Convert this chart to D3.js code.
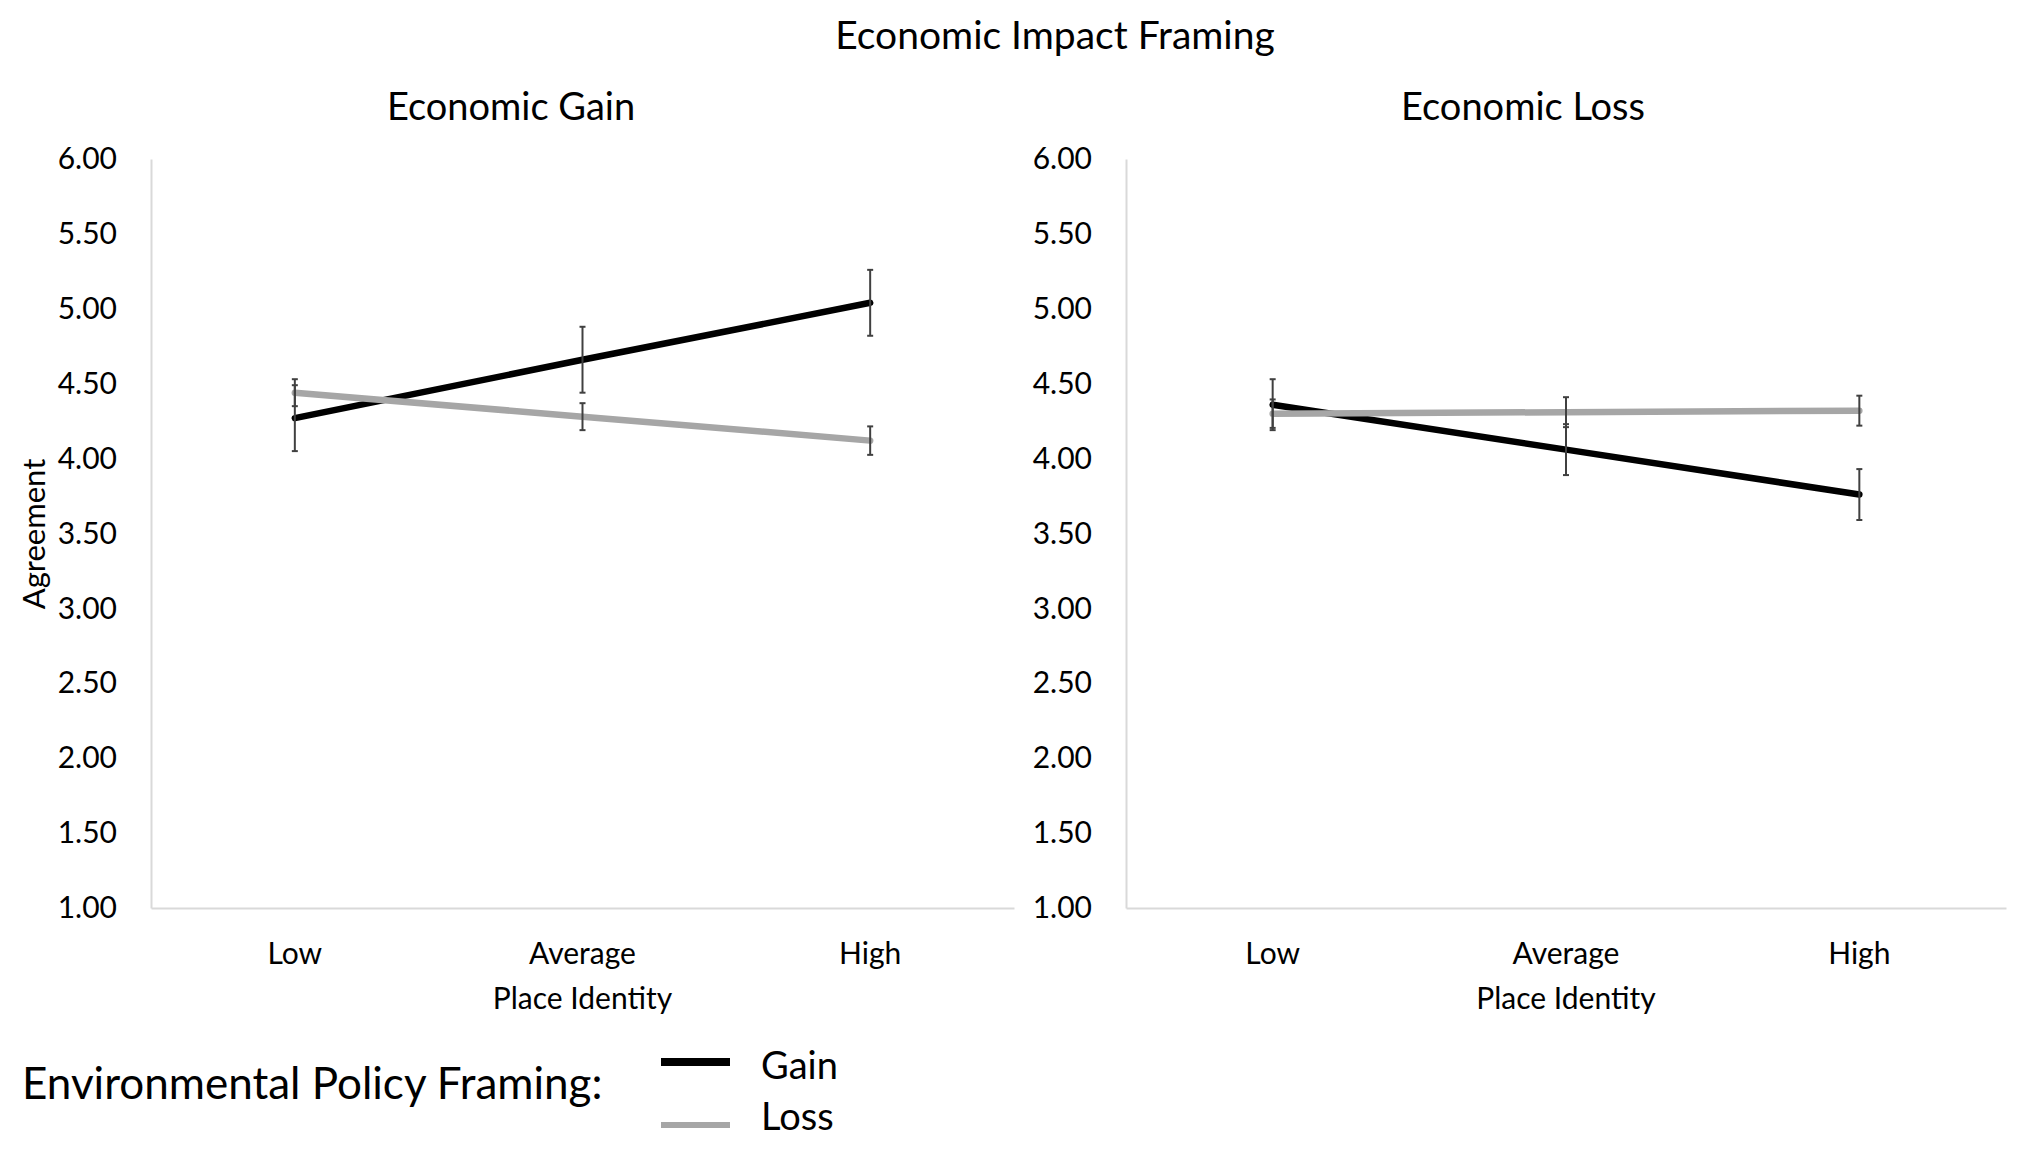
<!DOCTYPE html>
<html lang="en-US">
<head>
<meta charset="utf-8">
<title>Economic Impact Framing</title>
<script src="https://d3js.org/d3.v7.min.js"></script>
<style>
  body { margin: 0; background: #fff; }
  text { font-family: Lato, "Open Sans", sans-serif; fill: #000; }
</style>
</head>
<body>
<svg id="chart" width="2032" height="1156"></svg>
<script>
// data
var categories = ["Low", "Average", "High"];
var seriesNames = ["Gain", "Loss"];
var panelTitles = ["Economic Gain", "Economic Loss"];
var yTicks = [1.0, 1.5, 2.0, 2.5, 3.0, 3.5, 4.0, 4.5, 5.0, 5.5, 6.0];

// Economic Gain panel
var gainPanelGain = [4.27, 4.66, 5.04];
var gainPanelGainErr = [0.22, 0.22, 0.22];
var gainPanelLoss = [4.44, 4.28, 4.12];
var gainPanelLossErr = [0.09, 0.09, 0.095];

// Economic Loss panel
var lossPanelGain = [4.36, 4.06, 3.76];
var lossPanelGainErr = [0.17, 0.17, 0.17];
var lossPanelLoss = [4.30, 4.31, 4.32];
var lossPanelLossErr = [0.095, 0.10, 0.10];

var panels = [
  { title: panelTitles[0], x0: 151, x1: 1014, titleX: 511,
    series: [{ name: seriesNames[0], values: gainPanelGain, err: gainPanelGainErr },
             { name: seriesNames[1], values: gainPanelLoss, err: gainPanelLossErr }] },
  { title: panelTitles[1], x0: 1126, x1: 2006, titleX: 1523,
    series: [{ name: seriesNames[0], values: lossPanelGain, err: lossPanelGainErr },
             { name: seriesNames[1], values: lossPanelLoss, err: lossPanelLossErr }] }
];

var colors = { Gain: "#000000", Loss: "#a6a6a6" };
var svg = d3.select("#chart");
var yScale = d3.scaleLinear().domain([1, 6]).range([908, 159]);

// main title
svg.append("text")
  .attr("x", 1055).attr("y", 49)
  .attr("text-anchor", "middle")
  .attr("font-size", "39px")
  .text("Economic Impact Framing");

panels.forEach(function(p, pi) {
  var xScale = d3.scaleBand().domain(categories).range([p.x0, p.x1]);
  var cx = function(i) { return xScale(categories[i]) + xScale.bandwidth() / 2; };

  svg.append("text")
    .attr("x", p.titleX).attr("y", 120)
    .attr("text-anchor", "middle")
    .attr("font-size", "38px")
    .text(p.title);

  // y axis
  var yAxis = svg.append("g")
    .attr("transform", "translate(" + p.x0 + ",0)")
    .call(d3.axisLeft(yScale).tickValues(yTicks).tickSize(0).tickPadding(34)
            .tickFormat(d3.format(".2f")));
  yAxis.select(".domain").attr("stroke", "#d9d9d9").attr("stroke-width", 2);
  yAxis.selectAll("text").attr("font-size", "30px").attr("font-family", null).attr("fill", "#000");

  // x axis
  var xAxis = svg.append("g")
    .attr("transform", "translate(0," + yScale(1) + ")")
    .call(d3.axisBottom(xScale).tickSize(0));
  xAxis.select(".domain").attr("stroke", "#d9d9d9").attr("stroke-width", 2);
  xAxis.selectAll("text").attr("dy", null).attr("y", 56)
    .attr("font-size", "30px").attr("font-family", null).attr("fill", "#000");

  svg.append("text")
    .attr("x", (p.x0 + p.x1) / 2).attr("y", 1009)
    .attr("text-anchor", "middle")
    .attr("font-size", "30px")
    .text("Place Identity");

  // lines
  var line = d3.line()
    .x(function(d, i) { return cx(i); })
    .y(function(d) { return yScale(d); });

  p.series.forEach(function(s) {
    svg.append("path")
      .datum(s.values)
      .attr("fill", "none")
      .attr("stroke", colors[s.name])
      .attr("stroke-width", 6.5)
      .attr("stroke-linecap", "round")
      .attr("d", line);
  });

  // error bars on top
  p.series.forEach(function(s) {
    var g = svg.append("g").attr("stroke", "#404040").attr("stroke-width", 2);
    s.values.forEach(function(v, i) {
      var x = cx(i), top = yScale(v + s.err[i]), bot = yScale(v - s.err[i]);
      g.append("line").attr("x1", x).attr("x2", x).attr("y1", top).attr("y2", bot);
      g.append("line").attr("x1", x - 3).attr("x2", x + 3).attr("y1", top).attr("y2", top);
      g.append("line").attr("x1", x - 3).attr("x2", x + 3).attr("y1", bot).attr("y2", bot);
    });
  });
});

// y axis label
svg.append("text")
  .attr("transform", "translate(45,534) rotate(-90)")
  .attr("text-anchor", "middle")
  .attr("font-size", "31px")
  .text("Agreement");

// legend
svg.append("text")
  .attr("x", 22).attr("y", 1099)
  .attr("font-size", "44px")
  .text("Environmental Policy Framing:");

var legendY = { Gain: 1062, Loss: 1125 };
var legendTextY = { Gain: 1079, Loss: 1130 };
seriesNames.forEach(function(name) {
  svg.append("line")
    .attr("x1", 661).attr("x2", 730)
    .attr("y1", legendY[name]).attr("y2", legendY[name])
    .attr("stroke", colors[name])
    .attr("stroke-width", name == "Gain" ? 8 : 6);
  svg.append("text")
    .attr("x", 761).attr("y", legendTextY[name])
    .attr("font-size", "38px")
    .text(name);
});
</script>
</body>
</html>
